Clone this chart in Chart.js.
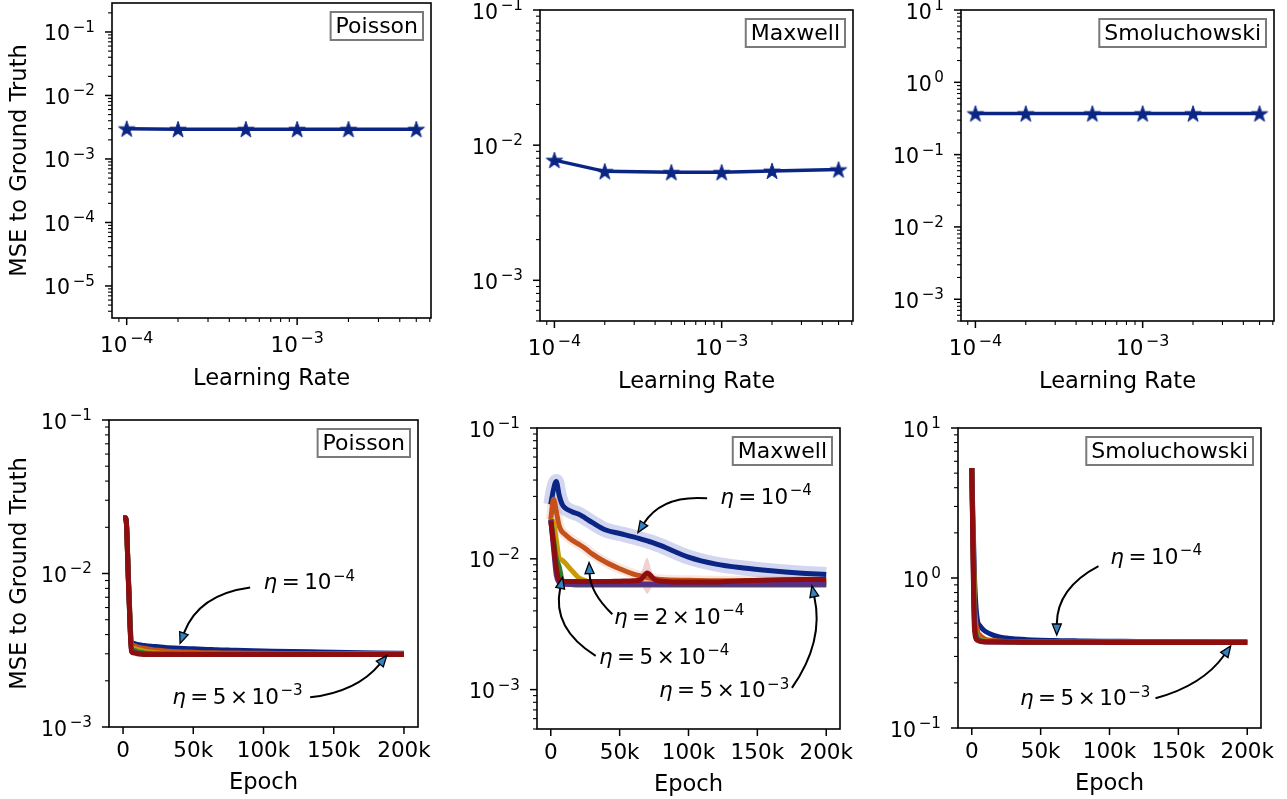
<!DOCTYPE html>
<html lang="en">
<head>
<meta charset="UTF-8">
<title>MSE to Ground Truth</title>
<script src="https://cdn.jsdelivr.net/npm/chart.js"></script>
<style>
  body { margin: 0; background: #fff; }
  #wrap { position: relative; width: 1287px; height: 799px; }
  #wrap canvas { position: absolute; left: 0; top: 0; }
</style>
</head>
<body>
<div id="wrap">
  <canvas id="c1" width="1287" height="799"></canvas>
  <canvas id="c2" width="1287" height="799"></canvas>
  <canvas id="c3" width="1287" height="799"></canvas>
  <canvas id="c4" width="1287" height="799"></canvas>
  <canvas id="c5" width="1287" height="799"></canvas>
  <canvas id="c6" width="1287" height="799"></canvas>
</div>
<script>
// ---------- data ----------
const learningRates = [1e-4, 2e-4, 5e-4, 1e-3, 2e-3, 5e-3];
const finalPoisson = [3.0e-3, 2.95e-3, 2.95e-3, 2.95e-3, 2.95e-3, 2.95e-3];
const finalMaxwell = [7.75e-3, 6.4e-3, 6.3e-3, 6.3e-3, 6.45e-3, 6.6e-3];
const finalSmol = [0.37, 0.37, 0.37, 0.37, 0.37, 0.37];

const lrTicks = [1e-4, 1e-3];
const epochTicks = [0, 50000, 100000, 150000, 200000];
const epochTickLabels = ['0', '50k', '100k', '150k', '200k'];

const epochs = [0, 2000, 4000, 6000, 8000, 10000, 15000, 20000, 25000, 30000, 40000, 50000,
  60000, 65000, 70000, 75000, 80000, 100000, 120000, 140000, 160000, 180000, 200000];

// Poisson, one array per learning rate
const pois1e4 = [2.3e-2, 2.3e-2, 8.6e-3, 3.6e-3, 3.5e-3, 3.45e-3, 3.4e-3, 3.36e-3, 3.33e-3, 3.3e-3, 3.26e-3, 3.23e-3, 3.2e-3, 3.19e-3, 3.18e-3, 3.17e-3, 3.16e-3, 3.13e-3, 3.1e-3, 3.08e-3, 3.06e-3, 3.04e-3, 3.02e-3];
const pois2e4 = [2.3e-2, 2.3e-2, 8.4e-3, 3.45e-3, 3.38e-3, 3.33e-3, 3.26e-3, 3.2e-3, 3.16e-3, 3.13e-3, 3.09e-3, 3.07e-3, 3.05e-3, 3.05e-3, 3.04e-3, 3.04e-3, 3.03e-3, 3.02e-3, 3.01e-3, 3.0e-3, 3.0e-3, 3.0e-3, 2.99e-3];
const pois5e4 = [2.3e-2, 2.3e-2, 8.3e-3, 3.32e-3, 3.25e-3, 3.2e-3, 3.12e-3, 3.07e-3, 3.04e-3, 3.02e-3, 3.01e-3, 3.0e-3, 3.0e-3, 3.0e-3, 3.0e-3, 3.0e-3, 3.0e-3, 2.99e-3, 2.99e-3, 2.99e-3, 2.99e-3, 2.99e-3, 2.99e-3];
const pois1e3 = [2.3e-2, 2.3e-2, 8.2e-3, 3.22e-3, 3.15e-3, 3.1e-3, 3.04e-3, 3.01e-3, 3.0e-3, 3.0e-3, 2.99e-3, 2.99e-3, 2.99e-3, 2.99e-3, 2.99e-3, 2.99e-3, 2.99e-3, 2.99e-3, 2.99e-3, 2.99e-3, 2.98e-3, 2.98e-3, 2.98e-3];
const pois2e3 = [2.3e-2, 2.3e-2, 8.1e-3, 3.14e-3, 3.07e-3, 3.03e-3, 3.0e-3, 2.99e-3, 2.98e-3, 2.98e-3, 2.98e-3, 2.98e-3, 2.98e-3, 2.98e-3, 2.98e-3, 2.98e-3, 2.98e-3, 2.98e-3, 2.98e-3, 2.98e-3, 2.98e-3, 2.98e-3, 2.98e-3];
const pois5e3 = [2.3e-2, 2.3e-2, 8.0e-3, 3.1e-3, 3.03e-3, 3.0e-3, 2.97e-3, 2.97e-3, 2.97e-3, 2.97e-3, 2.97e-3, 2.97e-3, 2.97e-3, 2.97e-3, 2.97e-3, 2.97e-3, 2.97e-3, 2.97e-3, 2.97e-3, 2.97e-3, 2.97e-3, 2.97e-3, 2.97e-3];

// Maxwell
const maxw1e4 = [2.6e-2, 3.4e-2, 3.9e-2, 3.1e-2, 2.65e-2, 2.47e-2, 2.3e-2, 2.2e-2, 2.05e-2, 1.9e-2, 1.66e-2, 1.56e-2, 1.47e-2, 1.42e-2, 1.37e-2, 1.32e-2, 1.26e-2, 1.03e-2, 9.1e-3, 8.5e-3, 8.1e-3, 7.8e-3, 7.6e-3];
const maxw2e4 = [2.0e-2, 2.85e-2, 2.3e-2, 1.8e-2, 1.62e-2, 1.55e-2, 1.4e-2, 1.3e-2, 1.2e-2, 1.09e-2, 9.4e-3, 8.4e-3, 7.65e-3, 7.4e-3, 7.2e-3, 7.05e-3, 6.95e-3, 6.85e-3, 6.8e-3, 6.8e-3, 6.8e-3, 6.8e-3, 6.8e-3];
const maxw5e4 = [2.0e-2, 1.9e-2, 1.4e-2, 1.02e-2, 9.8e-3, 9.4e-3, 8.2e-3, 7.2e-3, 6.8e-3, 6.6e-3, 6.5e-3, 6.5e-3, 6.5e-3, 6.5e-3, 6.5e-3, 6.5e-3, 6.5e-3, 6.5e-3, 6.5e-3, 6.5e-3, 6.5e-3, 6.5e-3, 6.5e-3];
const maxw1e3 = [2.0e-2, 1.4e-2, 1.0e-2, 8.8e-3, 7.0e-3, 6.5e-3, 6.35e-3, 6.3e-3, 6.3e-3, 6.3e-3, 6.3e-3, 6.3e-3, 6.3e-3, 6.3e-3, 6.3e-3, 6.3e-3, 6.3e-3, 6.3e-3, 6.3e-3, 6.3e-3, 6.3e-3, 6.3e-3, 6.3e-3];
const maxw2e3 = [2.0e-2, 1.2e-2, 7.5e-3, 6.6e-3, 6.45e-3, 6.4e-3, 6.4e-3, 6.4e-3, 6.4e-3, 6.4e-3, 6.4e-3, 6.4e-3, 6.4e-3, 6.4e-3, 6.4e-3, 6.4e-3, 6.4e-3, 6.4e-3, 6.4e-3, 6.4e-3, 6.4e-3, 6.4e-3, 6.4e-3];
const maxw5e3 = [1.95e-2, 1.3e-2, 8.5e-3, 6.9e-3, 6.75e-3, 6.7e-3, 6.7e-3, 6.7e-3, 6.7e-3, 6.7e-3, 6.7e-3, 6.75e-3, 6.8e-3, 6.9e-3, 7.8e-3, 7.0e-3, 6.75e-3, 6.65e-3, 6.65e-3, 6.8e-3, 6.9e-3, 6.95e-3, 6.95e-3];
// spread of the 5e-3 run around its bump
const spikeEpochs = [64000, 67000, 70000, 73000, 76000];
const spikeHigh = [6.9e-3, 8.6e-3, 1.02e-2, 8.2e-3, 6.9e-3];
const spikeLow = [6.6e-3, 6.0e-3, 5.4e-3, 6.0e-3, 6.6e-3];

// Smoluchowski
const smol1e4 = [5.4, 1.0, 0.53, 0.48, 0.455, 0.44, 0.418, 0.405, 0.398, 0.393, 0.388, 0.385, 0.383, 0.382, 0.381, 0.381, 0.38, 0.379, 0.378, 0.377, 0.376, 0.375, 0.375];
const smol2e4 = [5.4, 0.7, 0.45, 0.415, 0.4, 0.39, 0.383, 0.38, 0.378, 0.377, 0.376, 0.376, 0.376, 0.376, 0.376, 0.376, 0.375, 0.375, 0.375, 0.375, 0.375, 0.375, 0.374];
const smol5e4 = [5.4, 0.6, 0.41, 0.39, 0.383, 0.38, 0.378, 0.377, 0.376, 0.376, 0.375, 0.375, 0.375, 0.375, 0.375, 0.375, 0.375, 0.375, 0.375, 0.375, 0.374, 0.374, 0.374];
const smol1e3 = [5.4, 0.55, 0.4, 0.385, 0.38, 0.378, 0.377, 0.376, 0.375, 0.375, 0.375, 0.375, 0.375, 0.375, 0.375, 0.375, 0.375, 0.374, 0.374, 0.374, 0.374, 0.374, 0.374];
const smol2e3 = [5.4, 0.5, 0.39, 0.38, 0.377, 0.376, 0.375, 0.375, 0.375, 0.375, 0.374, 0.374, 0.374, 0.374, 0.374, 0.374, 0.374, 0.373, 0.373, 0.373, 0.373, 0.373, 0.373];
const smol5e3 = [5.4, 0.45, 0.385, 0.378, 0.376, 0.375, 0.375, 0.374, 0.374, 0.374, 0.373, 0.373, 0.373, 0.373, 0.373, 0.373, 0.373, 0.372, 0.372, 0.372, 0.372, 0.372, 0.372];

const lrColors = ['#0b2585', '#c4501b', '#c99a06', '#2b7d2b', '#5c2d86', '#8e0d0d'];
const FONT = 'DejaVu Sans';

// ---------- helpers ----------
function logTicks(min, max) {
  const out = [];
  for (let e = Math.floor(Math.log10(min)); e <= Math.ceil(Math.log10(max)); e++) {
    for (let k = 1; k < 10; k++) {
      const v = k * Math.pow(10, e);
      if (v >= min * 0.9999 && v <= max * 1.0001) out.push({value: v, major: k === 1});
    }
  }
  return out;
}

function makeStar(color) {
  const s = 22, c = document.createElement('canvas');
  c.width = c.height = s;
  const g = c.getContext('2d');
  const R = 8.6, r = R * 0.382;
  g.beginPath();
  for (let i = 0; i < 10; i++) {
    const ang = -Math.PI / 2 + i * Math.PI / 5;
    const rr = i % 2 ? r : R;
    g.lineTo(s / 2 + rr * Math.cos(ang), s / 2 + 0.8 + rr * Math.sin(ang));
  }
  g.closePath();
  g.fillStyle = color; g.fill();
  g.strokeStyle = color; g.lineWidth = 1; g.stroke();
  return c;
}

// "10" with a raised exponent, like matplotlib's log labels
function drawPow10(ctx, x, y, e, f, align) {
  const fe = f * 0.74, gap = 2.5;
  const es = e < 0 ? '−' + (-e) : String(e);
  ctx.font = `${f}px "${FONT}"`;
  const w1 = ctx.measureText('10').width;
  ctx.font = `${fe}px "${FONT}"`;
  const w2 = ctx.measureText(es).width;
  const total = w1 + gap + w2;
  const sx = align === 'right' ? x - total : x - total / 2;
  ctx.fillStyle = '#000';
  ctx.textAlign = 'left';
  ctx.textBaseline = 'alphabetic';
  ctx.font = `${f}px "${FONT}"`;
  ctx.fillText('10', sx, y);
  ctx.font = `${fe}px "${FONT}"`;
  ctx.fillText(es, sx + w1 + gap, y - f * 0.42);
}

// "η = 5 × 10^-3" with mathtext-like tight spacing
function drawEta(ctx, x, y, mant, exp) {
  const f = 21.5, gap = 4.5;
  ctx.fillStyle = '#000';
  ctx.textAlign = 'left';
  ctx.textBaseline = 'alphabetic';
  const put = (txt, font, dy) => {
    ctx.font = font;
    ctx.fillText(txt, x, y + (dy || 0));
    x += ctx.measureText(txt).width;
  };
  const reg = `${f}px "${FONT}"`;
  put('η', `italic ${f}px "${FONT}"`);
  x += gap; put('=', reg); x += gap;
  if (mant) { put(mant, reg); x += gap - 1; put('×', reg); x += gap - 1; }
  put('10', reg);
  x += 1.5;
  put('−' + exp, `${f * 0.7}px "${FONT}"`, -8.5);
}

function drawNote(ctx, xs, ys, n) {
  const x1 = xs.getPixelForValue(n.tail[0]), y1 = ys.getPixelForValue(n.tail[1]);
  const x2 = xs.getPixelForValue(n.tip[0]), y2 = ys.getPixelForValue(n.tip[1]);
  const dx = x2 - x1, dy = y2 - y1;
  const cx = (x1 + x2) / 2 - n.rad * dy, cy = (y1 + y2) / 2 + n.rad * dx;
  let ux = x2 - cx, uy = y2 - cy;
  const L = Math.hypot(ux, uy); ux /= L; uy /= L;
  const hl = 11, hw = 4.5;
  const bx = x2 - ux * hl, by = y2 - uy * hl;
  ctx.strokeStyle = '#000';
  ctx.lineWidth = 2;
  ctx.beginPath(); ctx.moveTo(x1, y1); ctx.quadraticCurveTo(cx, cy, bx, by); ctx.stroke();
  ctx.beginPath();
  ctx.moveTo(x2, y2);
  ctx.lineTo(bx - uy * hw, by + ux * hw);
  ctx.lineTo(bx + uy * hw, by - ux * hw);
  ctx.closePath();
  ctx.fillStyle = '#3282c4'; ctx.fill();
  ctx.lineWidth = 1.3; ctx.stroke();
  drawEta(ctx, xs.getPixelForValue(n.at[0]), ys.getPixelForValue(n.at[1]), n.mant, n.exp);
}

// matplotlib-like frame, ticks, log labels, name box and arrows
const panelMeta = {};
const mplPlugin = {
  id: 'mplLook',
  afterDraw(chart) {
    const meta = panelMeta[chart.canvas.id];
    const ctx = chart.ctx, a = chart.chartArea;
    const xs = chart.scales.x, ys = chart.scales.y;
    ctx.save();
    for (const t of xs.ticks) {
      const p = xs.getPixelForValue(t.value);
      if (p < a.left - 0.5 || p > a.right + 0.5) continue;
      ctx.strokeStyle = '#000';
      ctx.lineWidth = t.major ? 1.5 : 1.1;
      ctx.beginPath(); ctx.moveTo(p, a.bottom); ctx.lineTo(p, a.bottom + (t.major ? 7 : 4)); ctx.stroke();
      if (meta.logX && t.major && lrTicks.some(l => Math.abs(l - t.value) / l < 1e-6)) {
        drawPow10(ctx, p, a.bottom + 34, Math.round(Math.log10(t.value)), 21.5, 'center');
      }
    }
    for (const t of ys.ticks) {
      const p = ys.getPixelForValue(t.value);
      if (p < a.top - 0.5 || p > a.bottom + 0.5) continue;
      ctx.strokeStyle = '#000';
      ctx.lineWidth = t.major ? 1.5 : 1.1;
      ctx.beginPath(); ctx.moveTo(a.left, p); ctx.lineTo(a.left - (t.major ? 7 : 4), p); ctx.stroke();
      if (t.major) drawPow10(ctx, a.left - 17, p + 8.5, Math.round(Math.log10(t.value)), 20.5, 'right');
    }
    ctx.strokeStyle = '#000';
    ctx.lineWidth = 1.6;
    ctx.strokeRect(a.left, a.top, a.right - a.left, a.bottom - a.top);

    ctx.font = `22px "${FONT}"`;
    const w = ctx.measureText(meta.name).width;
    const bw = w + 10, bh = 28;
    const bx = a.right - 8 - bw, by = a.top + 9;
    ctx.fillStyle = '#fff'; ctx.fillRect(bx, by, bw, bh);
    ctx.strokeStyle = '#7a7a7a'; ctx.lineWidth = 2; ctx.strokeRect(bx, by, bw, bh);
    ctx.fillStyle = '#000'; ctx.textAlign = 'center'; ctx.textBaseline = 'middle';
    ctx.fillText(meta.name, bx + bw / 2, by + bh / 2 + 1);

    for (const n of meta.notes) drawNote(ctx, xs, ys, n);
    ctx.restore();
  }
};

function makeChart(id, box, xScale, yScale, datasets, meta) {
  panelMeta[id] = meta;
  const Wy = box.l - 9, Hx = box.hx;
  xScale.afterFit = s => { s.height = Hx; s.paddingLeft = s.paddingRight = s.paddingTop = s.paddingBottom = 0; };
  yScale.afterFit = s => { s.width = Wy; s.paddingLeft = s.paddingRight = s.paddingTop = s.paddingBottom = 0; };
  return new Chart(document.getElementById(id), {
    type: 'line',
    data: {datasets},
    options: {
      responsive: false,
      animation: false,
      devicePixelRatio: 1,
      layout: {autoPadding: false, padding: {left: box.l - Wy, top: box.t, right: 1287 - box.r, bottom: 799 - box.b - Hx}},
      plugins: {legend: {display: false}, tooltip: {enabled: false}},
      scales: {x: xScale, y: yScale}
    },
    plugins: [mplPlugin]
  });
}

function titleOpts(text) {
  return {display: !!text, text: text || '', color: '#000', font: {family: FONT, size: 22.6, lineHeight: 1}, padding: 0};
}

function logY(min, max, title) {
  return {
    type: 'logarithmic', position: 'left', min, max,
    grid: {display: false, drawTicks: false}, border: {display: false},
    afterBuildTicks: s => { s.ticks = logTicks(min, max); },
    ticks: {display: false},
    title: titleOpts(title)
  };
}
function lrX() {
  const min = 8.2e-5, max = 6.1e-3;
  return {
    type: 'logarithmic', position: 'bottom', min, max,
    grid: {display: false, drawTicks: false}, border: {display: false},
    afterBuildTicks: s => { s.ticks = logTicks(min, max); },
    ticks: {display: false},
    title: titleOpts('Learning Rate')
  };
}
function epochX() {
  return {
    type: 'linear', position: 'bottom', min: -10000, max: 210000,
    grid: {display: false, drawTicks: false}, border: {display: false},
    afterBuildTicks: s => { s.ticks = epochTicks.map(v => ({value: v, major: true})); },
    ticks: {autoSkip: false, maxRotation: 0, minRotation: 0, padding: 12, color: '#000',
      font: {family: FONT, size: 21.5}, callback: (v, i) => epochTickLabels[i]},
    title: titleOpts('Epoch')
  };
}

const star = makeStar('#0b2585');
function lrDataset(values) {
  return {
    data: learningRates.map((x, i) => ({x, y: values[i]})),
    borderColor: '#0b2585', borderWidth: 3.5, pointStyle: star, pointRadius: 8,
    tension: 0, fill: false
  };
}
function curveDatasets(series, bands) {
  const sets = [];
  if (bands) bands.forEach(b => sets.push(b));
  series.forEach((vals, k) => {
    sets.push({
      data: epochs.map((x, i) => ({x, y: vals[i]})),
      borderColor: lrColors[k], borderWidth: 5, pointRadius: 0,
      borderJoinStyle: 'round', cubicInterpolationMode: 'monotone', fill: false,
      order: series.length - k   // the largest learning rate is drawn last, on top
    });
  });
  return sets;
}

// ---------- top row ----------
makeChart('c1', {l: 112, t: 3, r: 431, b: 318, hx: 72}, lrX(), logY(3.13e-6, 0.286, 'MSE to Ground Truth'),
  [lrDataset(finalPoisson)], {name: 'Poisson', notes: [], logX: true});
makeChart('c2', {l: 540, t: 10, r: 853, b: 321, hx: 72}, lrX(), logY(5e-4, 0.1, ''),
  [lrDataset(finalMaxwell)], {name: 'Maxwell', notes: [], logX: true});
makeChart('c3', {l: 961, t: 10, r: 1274, b: 321, hx: 72}, lrX(), logY(5e-4, 10, ''),
  [lrDataset(finalSmol)], {name: 'Smoluchowski', notes: [], logX: true});

// ---------- bottom row ----------
makeChart('c4', {l: 109, t: 420, r: 418, b: 727, hx: 67}, epochX(), logY(1e-3, 0.1, 'MSE to Ground Truth'),
  curveDatasets([pois1e4, pois2e4, pois5e4, pois1e3, pois2e3, pois5e3]),
  {name: 'Poisson', notes: [
    {at: [100000, 7.9e-3], mant: '', exp: '4', tail: [90500, 8.1e-3], tip: [40600, 3.5e-3], rad: 0.3},
    {at: [35000, 1.42e-3], mant: '5', exp: '3', tail: [133200, 1.56e-3], tip: [187800, 2.92e-3], rad: 0.2}
  ]});

const maxwBands = [
  {data: spikeEpochs.map((x, i) => ({x, y: spikeHigh[i]})), borderWidth: 0, pointRadius: 0, fill: false,
    cubicInterpolationMode: 'monotone', order: 20},
  {data: spikeEpochs.map((x, i) => ({x, y: spikeLow[i]})), borderWidth: 0, pointRadius: 0,
    cubicInterpolationMode: 'monotone', fill: {target: 0}, backgroundColor: 'rgba(215,120,120,0.35)', order: 20},
  {data: epochs.map((x, i) => ({x, y: maxw1e4[i]})), borderColor: 'rgba(110,120,205,0.3)', borderWidth: 15,
    pointRadius: 0, cubicInterpolationMode: 'monotone', fill: false, order: 19},
  {data: epochs.map((x, i) => ({x, y: maxw2e4[i]})), borderColor: 'rgba(225,140,110,0.22)', borderWidth: 10,
    pointRadius: 0, cubicInterpolationMode: 'monotone', fill: false, order: 18}
];
makeChart('c5', {l: 537, t: 428, r: 840, b: 729, hx: 67}, epochX(), logY(5e-4, 0.1, ''),
  curveDatasets([maxw1e4, maxw2e4, maxw5e4, maxw1e3, maxw2e3, maxw5e3], maxwBands),
  {name: 'Maxwell', notes: [
    {at: [123000, 2.64e-2], mant: '', exp: '4', tail: [113500, 2.9e-2], tip: [63300, 1.59e-2], rad: 0.3},
    {at: [45900, 3.18e-3], mant: '2', exp: '4', tail: [44700, 3.77e-3], tip: [27800, 9.37e-3], rad: -0.2},
    {at: [35000, 1.57e-3], mant: '5', exp: '4', tail: [32600, 1.81e-3], tip: [8500, 7.19e-3], rad: -0.35},
    {at: [78500, 8.77e-4], mant: '5', exp: '3', tail: [175100, 1.03e-3], tip: [189600, 6.2e-3], rad: 0.22}
  ]});

makeChart('c6', {l: 958, t: 428, r: 1261, b: 728, hx: 67}, epochX(), logY(0.1, 10, ''),
  curveDatasets([smol1e4, smol2e4, smol5e4, smol1e3, smol2e3, smol5e3]),
  {name: 'Smoluchowski', notes: [
    {at: [100600, 1.24], mant: '', exp: '4', tail: [92000, 1.2], tip: [61700, 0.417], rad: 0.3},
    {at: [35000, 0.142], mant: '5', exp: '3', tail: [133400, 0.158], tip: [188000, 0.352], rad: 0.18}
  ]});
</script>
</body>
</html>
